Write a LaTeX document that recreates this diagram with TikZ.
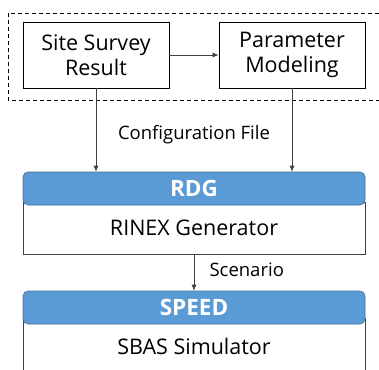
\documentclass[tikz,border=0pt]{standalone}
\usepackage{fontspec}
\setmainfont{Open Sans}
\usetikzlibrary{arrows.meta}
\definecolor{hdrblue}{RGB}{91,155,213}
\definecolor{hdrline}{RGB}{65,113,156}
\definecolor{edge}{RGB}{64,64,64}
\tikzset{
    box/.style={draw=black, line width=0.8pt, minimum width=146pt, minimum height=66pt,
        align=center, font=\fontsize{21.5}{25}\selectfont},
    header/.style={draw=hdrline, fill=hdrblue, rounded corners=5pt, line width=0.6pt,
        minimum width=342pt, minimum height=33pt, text=white,
        font=\fontsize{22.5}{26}\selectfont\bfseries},
    body/.style={draw=edge, fill=white, line width=1pt, minimum width=342pt,
        font=\fontsize{21.5}{25}\selectfont},
    lbl/.style={font=\fontsize{18.5}{22}\selectfont},
    link/.style={draw=edge, line width=0.7pt, -{Latex[length=6pt,width=5pt]}}
}
\begin{document}
\begin{tikzpicture}[x=1pt, y=-1pt]
    \useasboundingbox (0, 0) rectangle (379, 369);
    \clip (0, 0) rectangle (379, 369);
    \fill[white] (0, 0) rectangle (379, 369);
    % dashed frame round the two inputs
    \draw[dashed, line width=0.8pt, dash pattern=on 4pt off 3pt] (8, 13) rectangle (390, 100);
    \node[box] (site) at (96, 55) {Site Survey\\Result};
    \node[box] (param) at (292, 55) {Parameter\\Modeling};
    \draw[link] (site) -- (param);
    % RDG
    \node[body, minimum height=52pt] (rdgbody) at (194, 228) {RINEX Generator};
    \node[header] (rdg) at (194, 188.5) {RDG};
    \draw[link] (site.south) -- (site.south |- rdg.north);
    \draw[link] (param.south) -- (param.south |- rdg.north);
    \node[lbl] (conf) at (194, 135) {Configuration File};
    % SPEED
    \node[body, minimum height=70pt, anchor=north] (speedbody) at (194, 318) {};
    \node[font=\fontsize{21.5}{25}\selectfont] (sbas) at (194, 346) {SBAS Simulator};
    \node[header] (speed) at (194, 307.5) {SPEED};
    \draw[link] (rdgbody.south) -- (speed.north);
    \node[lbl, anchor=west] (scen) at (206, 270) {Scenario};
\end{tikzpicture}
\end{document}
